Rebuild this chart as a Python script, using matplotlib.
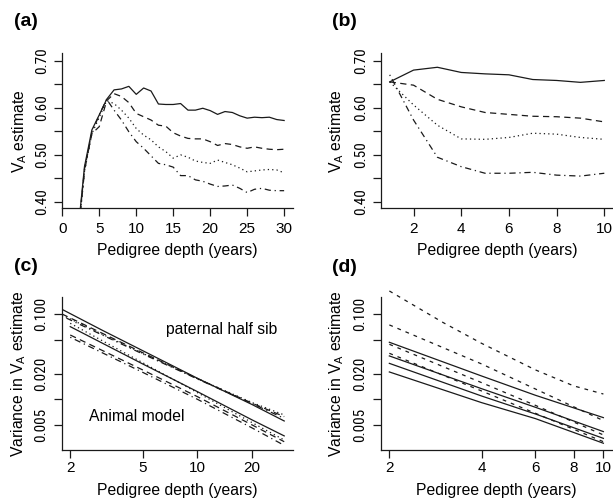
import matplotlib
matplotlib.use("Agg")
import matplotlib.pyplot as plt
from matplotlib import font_manager
from matplotlib.ticker import FixedLocator, FixedFormatter, NullLocator

plt.rcParams['font.family'] = ['Liberation Sans', 'DejaVu Sans']
plt.rcParams['mathtext.fontset'] = 'custom'
plt.rcParams['mathtext.rm'] = 'Liberation Sans'

# ---------------- data ----------------
# panel (a)
years_a = list(range(2, 31))
solid_a = [0.317, 0.475, 0.553, 0.585, 0.618, 0.638, 0.640, 0.6455, 0.6285, 0.642,
           0.6356, 0.608, 0.607, 0.607, 0.609, 0.595, 0.595, 0.599, 0.594, 0.586,
           0.592, 0.590, 0.583, 0.578, 0.580, 0.579, 0.580, 0.575, 0.573]
dashed_a = [0.31, 0.47, 0.545, 0.56, 0.615, 0.630, 0.624, 0.611, 0.588, 0.581,
            0.574, 0.563, 0.561, 0.547, 0.540, 0.535, 0.534, 0.534, 0.528, 0.520,
            0.524, 0.522, 0.517, 0.514, 0.517, 0.514, 0.512, 0.511, 0.512]
dotted_a = [0.31, 0.465, 0.545, 0.58, 0.615, 0.609, 0.595, 0.578, 0.556, 0.542,
            0.532, 0.517, 0.507, 0.493, 0.500, 0.495, 0.487, 0.484, 0.482, 0.489,
            0.484, 0.479, 0.472, 0.464, 0.466, 0.468, 0.469, 0.468, 0.462]
dashdot_a = [0.305, 0.465, 0.548, 0.585, 0.618, 0.595, 0.574, 0.549, 0.528, 0.514,
             0.498, 0.482, 0.479, 0.474, 0.456, 0.456, 0.447, 0.444, 0.438, 0.433,
             0.434, 0.436, 0.429, 0.420, 0.427, 0.429, 0.425, 0.424, 0.424]

# panel (b)
years_b = list(range(1, 11))
solid_b = [0.655, 0.680, 0.686, 0.675, 0.672, 0.670, 0.660, 0.658, 0.654, 0.658]
dashed_b = [0.655, 0.648, 0.618, 0.602, 0.590, 0.586, 0.582, 0.581, 0.578, 0.570]
dotted_b = [0.655, 0.606, 0.563, 0.534, 0.533, 0.537, 0.546, 0.544, 0.537, 0.533]
dashdot_b = [0.670, 0.574, 0.495, 0.475, 0.461, 0.461, 0.463, 0.457, 0.455, 0.461]

# panel (c)
years_c_phs = [1.8, 3, 5, 10, 20, 30]
phs_solid = [0.1145, 0.0649, 0.0374, 0.0177, 0.00868, 0.00557]
phs_dashed = [0.1009, 0.0598, 0.0354, 0.01754, 0.0090, 0.00627]
phs_dotted = [0.0982, 0.0582, 0.0348, 0.01754, 0.00916, 0.00656]
phs_dashdot = [0.0955, 0.0571, 0.0342, 0.01738, 0.00891, 0.00598]
years_c_am = [2, 5, 10, 20, 30]
am_solid = [0.0716, 0.0261, 0.01233, 0.00573, 0.00372]
am_dotted = [0.0784, 0.0270, 0.0120, 0.00532, 0.00333]
am_dashed = [0.0571, 0.0222, 0.01076, 0.0050, 0.00318]
am_dashdot = [0.0537, 0.0208, 0.01002, 0.00461, 0.00288]

# panel (d)
years_d_top = [2, 3, 4, 6, 8, 10]
d_dashed1 = [0.188, 0.0798, 0.0456, 0.0222, 0.0144, 0.01156]
years_d = [2, 4, 6, 10]
d_dashed2 = [0.075, 0.0261, 0.01324, 0.00563]
d_dashed3 = [0.0444, 0.01574, 0.0085, 0.00382]
d_dashed4 = [0.0348, 0.01256, 0.00686, 0.00318]
d_solid1 = [0.0469, 0.01884, 0.01117, 0.0061]
d_solid2 = [0.0324, 0.01336, 0.00807, 0.00418]
d_solid3 = [0.0265, 0.01096, 0.00673, 0.00348]
d_solid4 = [0.0210, 0.00916, 0.00594, 0.00305]

va_ticks = [0.40, 0.45, 0.50, 0.55, 0.60, 0.65, 0.70]
va_labels = ['0.40', '', '0.50', '', '0.60', '', '0.70']
var_ticks = [0.005, 0.01, 0.02, 0.05, 0.1]
var_labels = ['0.005', '', '0.020', '', '0.100']

# narrow font for the rotated y tick labels, if one is installed
_names = {f.name for f in font_manager.fontManager.ttflist}
NARROW = None
for cand in ['Liberation Sans Narrow', 'Arial Narrow', 'Nimbus Sans Narrow',
             'DejaVu Sans Condensed', 'Roboto Condensed', 'Open Sans Condensed']:
    if cand in _names:
        NARROW = cand
        break

# ---------------- layout ----------------
W, H = 613, 500
fig = plt.figure(figsize=(W / 100, H / 100), dpi=100)

def rect(l, t, r, b):
    return [l / W, 1 - b / H, (r - l) / W, (b - t) / H]

def fx(x):
    return x / W

def fy(y):
    return 1 - y / H

LW = 0.9
COL = '#1a1a1a'
DASH = (0, (5, 3.5))
DOT = (0, (1, 2.5))
DASHDOT = (0, (1, 3, 5, 3))
SDASH = (0, (3, 4))
FS = 11
FSL = 11.3

def style(ax, xpad=4, ypad=4):
    for s in ['top', 'right']:
        ax.spines[s].set_visible(False)
    for s in ['left', 'bottom']:
        ax.spines[s].set_linewidth(0.9)
        ax.spines[s].set_color(COL)
    ax.tick_params(axis='both', direction='out', length=5.5, width=0.9,
                   color=COL, labelsize=FS)
    ax.tick_params(axis='x', pad=xpad)
    ax.tick_params(axis='y', pad=ypad, labelrotation=90)
    for lab in ax.get_yticklabels():
        lab.set_va('center')
        if NARROW is not None:
            lab.set_family([NARROW, 'Liberation Sans'])
            lab.set_fontsize(11)
        else:
            lab.set_fontsize(10)
    ax.set_facecolor('none')

# (a)
ax = fig.add_axes(rect(62, 53, 293, 208.3))
ax.plot(years_a, solid_a, color=COL, lw=LW, linestyle='-')
ax.plot(years_a, dashed_a, color=COL, lw=LW, linestyle=DASH)
ax.plot(years_a, dotted_a, color=COL, lw=LW, linestyle=DOT)
ax.plot(years_a, dashdot_a, color=COL, lw=LW, linestyle=DASHDOT)
ax.set_xlim(-0.04, 31.2)
ax.set_ylim(0.3866, 0.7163)
ax.set_xticks([0, 5, 10, 15, 20, 25, 30])
ax.yaxis.set_major_locator(FixedLocator(va_ticks))
ax.yaxis.set_major_formatter(FixedFormatter(va_labels))
style(ax, xpad=4.5)

# (b)
ax = fig.add_axes(rect(381, 53, 613, 208.3))
ax.plot(years_b, solid_b, color=COL, lw=LW, linestyle='-')
ax.plot(years_b, dashed_b, color=COL, lw=LW, linestyle=DASH)
ax.plot(years_b, dotted_b, color=COL, lw=LW, linestyle=DOT)
ax.plot(years_b, dashdot_b, color=COL, lw=LW, linestyle=DASHDOT)
ax.set_xlim(0.635, 10.365)
ax.set_ylim(0.3866, 0.7163)
ax.set_xticks([2, 4, 6, 8, 10])
ax.yaxis.set_major_locator(FixedLocator(va_ticks))
ax.yaxis.set_major_formatter(FixedFormatter(va_labels))
style(ax, xpad=4.5)

# (c)
ax = fig.add_axes(rect(61.7, 296.7, 292.7, 450))
ax.set_xscale('log')
ax.set_yscale('log')
ax.plot(years_c_phs, phs_solid, color=COL, lw=LW, linestyle='-')
ax.plot(years_c_phs, phs_dashed, color=COL, lw=LW, linestyle=DASH)
ax.plot(years_c_phs, phs_dotted, color=COL, lw=LW, linestyle=DOT)
ax.plot(years_c_phs, phs_dashdot, color=COL, lw=LW, linestyle=DASHDOT)
ax.plot(years_c_am, am_solid, color=COL, lw=LW, linestyle='-')
ax.plot(years_c_am, am_dotted, color=COL, lw=LW, linestyle=DOT)
ax.plot(years_c_am, am_dashed, color=COL, lw=LW, linestyle=DASH)
ax.plot(years_c_am, am_dashdot, color=COL, lw=LW, linestyle=DASHDOT)
ax.set_xlim(1.795, 33.4)
ax.set_ylim(0.00254, 0.161)
ax.xaxis.set_major_locator(FixedLocator([2, 5, 10, 20]))
ax.xaxis.set_major_formatter(FixedFormatter(['2', '5', '10', '20']))
ax.xaxis.set_minor_locator(NullLocator())
ax.yaxis.set_major_locator(FixedLocator(var_ticks))
ax.yaxis.set_major_formatter(FixedFormatter(var_labels))
ax.yaxis.set_minor_locator(NullLocator())
style(ax, xpad=2.5)
ax.text(0.45, 0.785, 'paternal half sib', transform=ax.transAxes, fontsize=FSL,
        ha='left', va='center', color='black')
ax.text(0.12, 0.22, 'Animal model', transform=ax.transAxes, fontsize=FSL,
        ha='left', va='center', color='black')

# (d)
ax = fig.add_axes(rect(380.7, 296.7, 612, 450))
ax.set_xscale('log')
ax.set_yscale('log')
ax.plot(years_d_top, d_dashed1, color=COL, lw=LW, linestyle=SDASH, clip_on=False)
ax.plot(years_d, d_dashed2, color=COL, lw=LW, linestyle=SDASH)
ax.plot(years_d, d_dashed3, color=COL, lw=LW, linestyle=SDASH)
ax.plot(years_d, d_dashed4, color=COL, lw=LW, linestyle=SDASH)
ax.plot(years_d, d_solid1, color=COL, lw=LW, linestyle='-')
ax.plot(years_d, d_solid2, color=COL, lw=LW, linestyle='-')
ax.plot(years_d, d_solid3, color=COL, lw=LW, linestyle='-')
ax.plot(years_d, d_solid4, color=COL, lw=LW, linestyle='-')
ax.set_xlim(1.874, 10.67)
ax.set_ylim(0.00254, 0.161)
ax.xaxis.set_major_locator(FixedLocator([2, 4, 6, 8, 10]))
ax.xaxis.set_major_formatter(FixedFormatter(['2', '4', '6', '8', '10']))
ax.xaxis.set_minor_locator(NullLocator())
ax.yaxis.set_major_locator(FixedLocator(var_ticks))
ax.yaxis.set_major_formatter(FixedFormatter(var_labels))
ax.yaxis.set_minor_locator(NullLocator())
style(ax, xpad=2.5)

# axis titles
xlab = 'Pedigree depth (years)'
fig.text(fx(177.5), fy(251), xlab, ha='center', va='center', fontsize=FSL)
fig.text(fx(497), fy(251), xlab, ha='center', va='center', fontsize=FSL)
fig.text(fx(177), fy(490.5), xlab, ha='center', va='center', fontsize=FSL)
fig.text(fx(496), fy(490.5), xlab, ha='center', va='center', fontsize=FSL)

va_lab = r'$\mathregular{V_A}$ estimate'
var_lab = r'Variance in $\mathregular{V_A}$ estimate'
fig.text(fx(20), fy(130.7), va_lab, rotation=90, ha='center', va='center', fontsize=FSL)
fig.text(fx(337), fy(130.7), va_lab, rotation=90, ha='center', va='center', fontsize=FSL)
fig.text(fx(18.5), fy(373.3), var_lab, rotation=90, ha='center', va='center', fontsize=FSL)
fig.text(fx(337), fy(373.3), var_lab, rotation=90, ha='center', va='center', fontsize=FSL)

# panel letters
for lbl, x, y in [('(a)', 25.8, 21.5), ('(b)', 344, 21.5),
                  ('(c)', 25.5, 266.7), ('(d)', 344, 267)]:
    fig.text(fx(x), fy(y), lbl, ha='center', va='center', fontsize=14,
             fontweight='bold')

fig.savefig('out.png', dpi=100)
